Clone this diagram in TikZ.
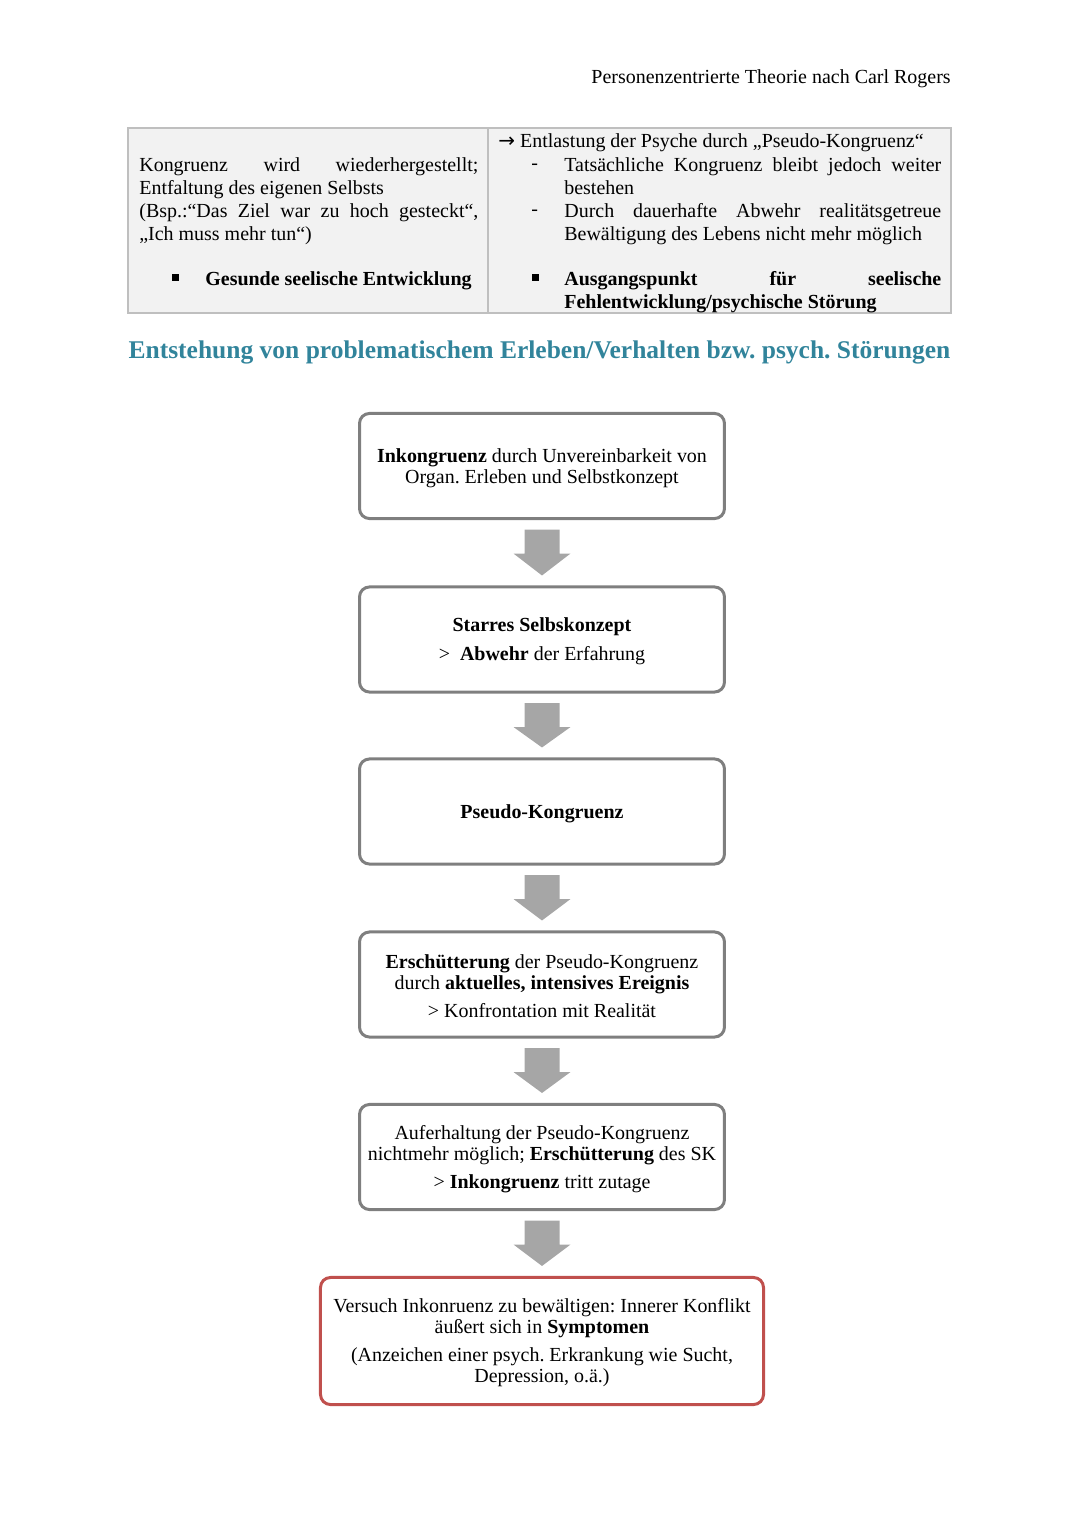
\documentclass[tikz,border=0pt]{standalone}
\usepackage{fontspec}
\setmainfont{Liberation Serif}
\newfontfamily\symfont{DejaVu Sans}
\usetikzlibrary{calc}
\definecolor{boxgray}{HTML}{7F7F7F}
\definecolor{arrowgray}{HTML}{A6A6A6}
\definecolor{boxred}{HTML}{C0504D}
\definecolor{titleteal}{HTML}{31849B}
\definecolor{cellgray}{HTML}{F2F2F2}
\definecolor{cellline}{HTML}{BFBFBF}
\newcommand{\sqbullet}{\rule[0.12em]{0.32em}{0.32em}}
\newcommand{\topstrut}{\rule{0pt}{9.8pt}}
\newcommand{\leftrow}[1]{\makebox[186.8pt][s]{\spaceskip=0pt\xspaceskip=0pt #1}}
\newcommand{\rightrow}[1]{\makebox[207.7pt][s]{\spaceskip=0pt\xspaceskip=0pt #1}}
\tikzset{
	flowbox/.style={draw=boxgray, line width=1.65pt, rounded corners=5.5pt, align=center,
		minimum width=201.1pt, minimum height=57.9pt, inner sep=2pt},
	redbox/.style={flowbox, draw=boxred, minimum width=244.1pt, minimum height=70pt},
	pfeil/.style={fill=arrowgray},
	celltext/.style={anchor=north west, inner sep=0pt, align=justify,
		font=\fontsize{11}{12.65}\selectfont},
	cellmark/.style={anchor=base west, inner sep=0pt},
}
\begin{document}
\frenchspacing
\begin{tikzpicture}[x=0.551pt, y=-0.551pt, font=\fontsize{11}{11.6}\selectfont]
	\useasboundingbox (0,0) rectangle (1080,1527);
	%header
	\node[anchor=east, inner sep=0pt] (head) at (951,79) {Personenzentrierte Theorie nach Carl Rogers};
	%table
	\draw[cellline, fill=cellgray, line width=0.8pt] (128,128) rectangle (951,313);
	\draw[cellline, line width=0.8pt] (488,128) -- (488,313);
	\node[celltext, text width=186.8pt] (left) at (139,157)
	{
		\leftrow{Kongruenz wird wiederhergestellt;}\\
		Entfaltung des eigenen Selbsts\\
		\leftrow{(Bsp.:“Das Ziel war zu hoch gesteckt“,}\\
		„Ich muss mehr tun“)
	};
	\node[cellmark] (leftbul) at (172,283) {\sqbullet};
	\node[celltext] (lefthead) at (205,271) {\bfseries Gesunde seelische Entwicklung};
	\node[cellmark] (right) at (498,147) {{\symfont →} Entlastung der Psyche durch „Pseudo-Kongruenz“};
	\node[cellmark] (dash1) at (531,169) {-};
	\node[cellmark] (dash2) at (531,215) {-};
	\node[celltext, text width=207.7pt] (text1) at (564,157)
	{
		\rightrow{Tatsächliche Kongruenz bleibt jedoch weiter}\\
		bestehen
	};
	\node[celltext, text width=207.7pt] (text2) at (564,203)
	{
		\rightrow{Durch dauerhafte Abwehr realitätsgetreue}\\
		Bewältigung des Lebens nicht mehr möglich
	};
	\node[cellmark] (rightbul) at (532,283) {\sqbullet};
	\node[celltext, text width=207.7pt] (righthead) at (564,271)
	{
		\bfseries
		\rightrow{Ausgangspunkt für seelische}\\
		Fehlentwicklung/psychische Störung
	};
	%title
	\node[inner sep=0pt, text=titleteal, font=\fontsize{14.05}{16}\selectfont\bfseries] (title) at (539.5,352)
	{Entstehung von problematischem Erleben/Verhalten bzw. psych. Störungen};
	%boxes
	\node[flowbox] (b1) at (542,466)
	{\topstrut\textbf{Inkongruenz} durch Unvereinbarkeit von\\ Organ. Erleben und Selbstkonzept};
	\node[flowbox] (b2) at (542,639.5)
	{\topstrut\textbf{Starres Selbskonzept}\\[4.5pt] > \ \textbf{Abwehr} der Erfahrung};
	\node[flowbox] (b3) at (542,811.5)
	{\topstrut\textbf{Pseudo-Kongruenz}};
	\node[flowbox] (b4) at (542,984.5)
	{\topstrut\textbf{Erschütterung} der Pseudo-Kongruenz\\ durch \textbf{aktuelles, intensives Ereignis}\\[4pt] > Konfrontation mit Realität};
	\node[flowbox] (b5) at (542,1157)
	{\topstrut Auferhaltung der Pseudo-Kongruenz\\ nichtmehr möglich; \textbf{Erschütterung} des SK\\[4pt] > \textbf{Inkongruenz} tritt zutage};
	\node[redbox] (b6) at (542,1341)
	{\topstrut Versuch Inkonruenz zu bewältigen: Innerer Konflikt\\ äußert sich in \textbf{Symptomen}\\[4pt] (Anzeichen einer psych. Erkrankung wie Sucht,\\ Depression, o.ä.)};
	%arrows
	\foreach \a/\b in {b1/b2,b2/b3,b3/b4,b4/b5,b5/b6}
	\fill[pfeil] ($(\a.south)+(-17.5,9.5)$) -- ++(35,0) -- ++(0,24) -- ++(11,0)
	-- ($(\b.north)+(0,-10)$) -- ($(\a.south)+(-28.5,33.5)$) -- ++(11,0) -- cycle;
\end{tikzpicture}
\end{document}
